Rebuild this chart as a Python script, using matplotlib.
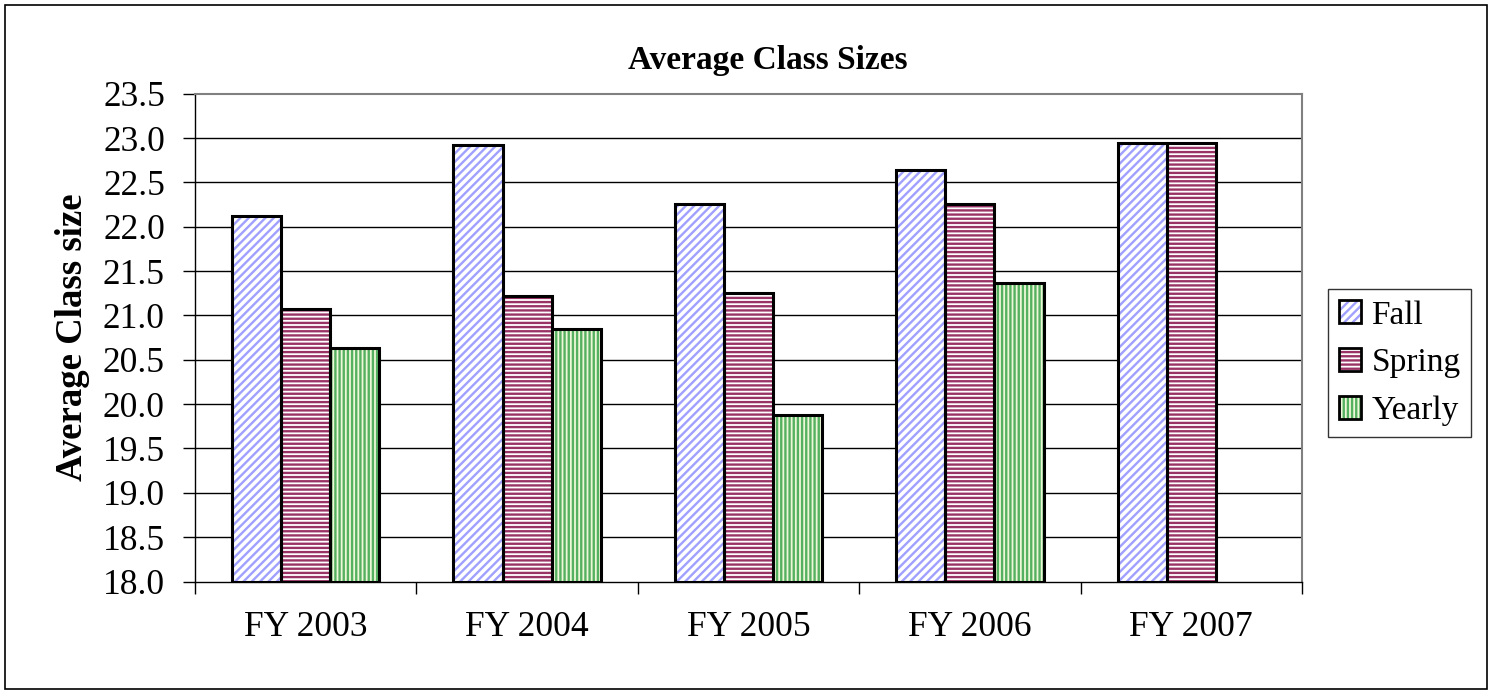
import numpy as np
import matplotlib
matplotlib.use("Agg")
import matplotlib.pyplot as plt
from matplotlib.patches import Rectangle, Patch
from matplotlib.legend_handler import HandlerTuple

# data
years = ["FY 2003", "FY 2004", "FY 2005", "FY 2006", "FY 2007"]
fall = [22.12, 22.92, 22.26, 22.64, 22.94]
spring = [21.07, 21.22, 21.25, 22.26, 22.94]
yearly = [20.63, 20.85, 19.88, 21.36, np.nan]

series_names = ["Fall", "Spring", "Yearly"]
hatch_colors = ["#a0a0ff", "#993366", "#55b060"]
face_colors = ["white", "white", "#eef8d8"]
hatches = ["////", "----", "||||"]

plt.rcParams["font.family"] = ["Liberation Serif", "DejaVu Serif"]
plt.rcParams["hatch.linewidth"] = 1.7

fig = plt.figure(figsize=(14.99, 6.94), dpi=100)
W, H = 1499, 694
ax = fig.add_axes([195 / W, 1 - 581.5 / H, (1302 - 195) / W, (581.5 - 93.7) / H])

x = np.arange(len(years))
width = 0.222
handles = []
for i, vals in enumerate([fall, spring, yearly]):
    pos = x + (i - 1) * width
    ax.bar(pos, np.array(vals) - 18.0, width, bottom=18.0, color=face_colors[i],
           edgecolor=hatch_colors[i], hatch=hatches[i], linewidth=0, zorder=3)
    ax.bar(pos, np.array(vals) - 18.0, width, bottom=18.0, facecolor="none",
           edgecolor="black", linewidth=2.2, zorder=4)
    h1 = Patch(facecolor=face_colors[i], edgecolor=hatch_colors[i], hatch=hatches[i], linewidth=0)
    h2 = Patch(facecolor="none", edgecolor="black", linewidth=2.0)
    handles.append((h1, h2))

ax.set_ylim(18.0, 23.5)
ax.set_xlim(-0.5, len(years) - 0.5)
yt = np.arange(18.0, 23.51, 0.5)
ax.set_yticks(yt)
ax.set_yticklabels([f"{v:.1f}" for v in yt], fontsize=25.5)
ax.tick_params(axis="y", direction="out", length=8.6, width=1, pad=13)

# category boundaries get tick marks, labels sit at the centres
ax.set_xticks(np.arange(-0.5, len(years), 1.0))
ax.set_xticklabels([])
ax.set_xticks(x, minor=True)
ax.set_xticklabels(years, minor=True, fontsize=25.5)
ax.tick_params(axis="x", which="major", direction="out", length=8.6, width=1)
ax.tick_params(axis="x", which="minor", length=0, pad=21)

for v in yt[1:-1]:
    ax.axhline(v, color="black", linewidth=1.0, zorder=1)

ax.spines["top"].set_color("#808080")
ax.spines["right"].set_color("#808080")
ax.spines["top"].set_linewidth(1.5)
ax.spines["right"].set_linewidth(1.5)
ax.spines["left"].set_linewidth(1.0)
ax.spines["bottom"].set_linewidth(1.0)

ax.set_ylabel("Average Class size", fontsize=26.5, fontweight="bold", labelpad=9)
fig.text(768 / W, 1 - 60 / H, "Average Class Sizes", ha="center", va="center",
         fontsize=24, fontweight="bold")

leg = ax.legend(handles, series_names, handler_map={tuple: HandlerTuple(ndivide=1)},
                loc="upper left", bbox_to_anchor=(1328 / W, 1 - 289 / H),
                bbox_transform=fig.transFigure, fontsize=24, frameon=True, fancybox=False,
                handlelength=0.67, handleheight=0.67, handletextpad=0.3, labelspacing=0.52,
                borderpad=0.33, borderaxespad=0)
leg.get_frame().set_edgecolor("black")
leg.get_frame().set_linewidth(1.0)

fig.patches.append(Rectangle((5 / W, 5 / H), (1487 - 5) / W, (689 - 5) / H,
                             transform=fig.transFigure, fill=False, edgecolor="black", linewidth=1.2))

fig.savefig("out.png", dpi=100)
